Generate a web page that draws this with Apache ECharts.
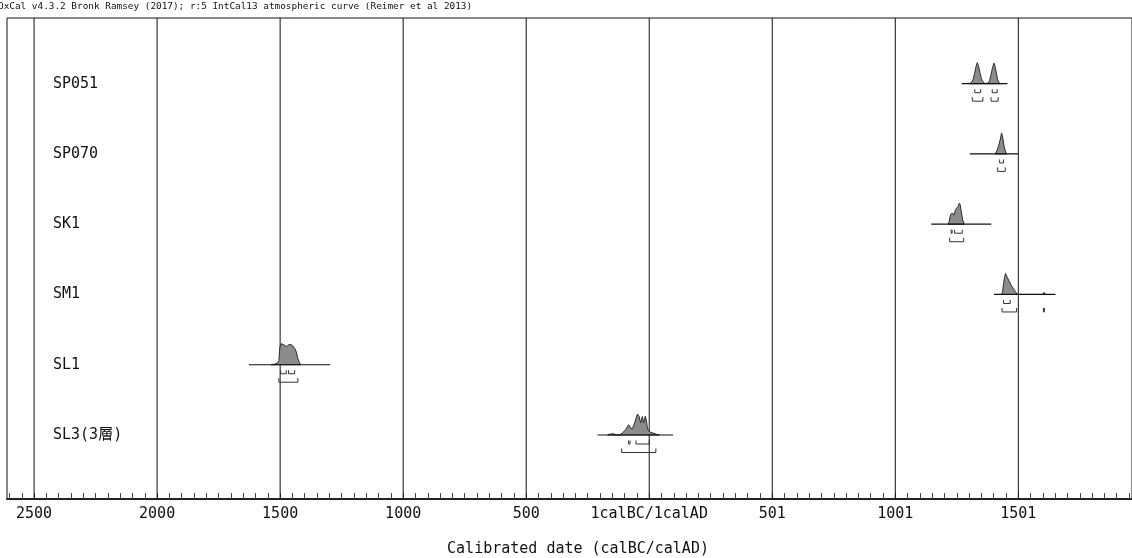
<!DOCTYPE html>
<html><head><meta charset="utf-8">
<script src="https://cdn.jsdelivr.net/npm/echarts@6/dist/echarts.min.js"></script>
<style>html,body{margin:0;padding:0;background:#fff}#c{width:1132px;height:558px}</style>
</head><body><div id="c"></div>
<script>
// ---- data (x values: calendar axis, negative = BC, 0 = 1calBC/1calAD boundary, AD year = x+1)
const names = ['SP051', 'SP070', 'SK1', 'SM1', 'SL1', 'SL3(3層)'];
const rowValues = [6, 5, 4, 3, 2, 1];
const baselineRanges = [[1270, 1456], [1303, 1500], [1146, 1390], [1401, 1651], [-1627, -1296], [-210, 97]];

const distSP051 = [[1301,0],[1309,0.05],[1316,0.19],[1322,0.48],[1328,0.81],[1333,1],[1338,0.86],[1344,0.52],[1350,0.24],[1356,0.1],[1364,0.01],[1376,0.02],[1383,0.14],[1389,0.43],[1395,0.76],[1401,0.98],[1406,0.81],[1411,0.48],[1416,0.19],[1421,0.05],[1429,0]];
const distSP070 = [[1405,0],[1413,0.14],[1421,0.43],[1427,0.71],[1432,1],[1437,0.76],[1441,0.43],[1447,0.14],[1452,0]];
const distSK1 = [[1215,0],[1219,0.13],[1223,0.37],[1227,0.49],[1233,0.52],[1238,0.43],[1244,0.65],[1249,0.76],[1255,0.84],[1260,1],[1264,0.92],[1268,0.6],[1274,0.2],[1280,0]];
const distSM1 = [[1432,0],[1436,0.13],[1440,0.52],[1444,0.81],[1448,1],[1454,0.84],[1462,0.65],[1471,0.44],[1482,0.24],[1491,0.08],[1499,0],[1600,0],[1605,0.1],[1611,0]];
const distSL1 = [[-1536,0],[-1523,0.03],[-1512,0.06],[-1505,0.2],[-1501,0.84],[-1495,1],[-1489,0.97],[-1481,0.92],[-1473,0.86],[-1465,0.96],[-1456,0.96],[-1448,0.89],[-1440,0.76],[-1434,0.6],[-1429,0.33],[-1422,0.11],[-1416,0]];
const distSL3 = [[-169,0],[-156,0.05],[-142,0.05],[-133,0],[-119,0.01],[-108,0.11],[-95,0.26],[-84,0.49],[-74,0.31],[-68,0.31],[-61,0.51],[-54,0.77],[-48,1],[-41,0.88],[-35,0.57],[-28,0.88],[-23,0.57],[-16,0.89],[-12,0.72],[-8,0.38],[-3,0.2],[7,0.12],[16,0.09],[30,0.03],[41,0]];
const dists = [distSP051, distSP070, distSK1, distSM1, distSL1, distSL3];

// 68.2% and 95.4% ranges
const ranges68 = [[[1323,1347],[1394,1414]], [[1424,1440]], [[1227,1231],[1241,1272]], [[1440,1467]], [[-1498,-1475],[-1466,-1441]], [[-84,-78],[-54,0]]];
const ranges95 = [[[1313,1356],[1389,1418]], [[1416,1447]], [[1221,1278]], [[1434,1493],[1602,1606]], [[-1505,-1428]], [[-112,27]]];

const majorTicks = [-2500, -2000, -1500, -1000, -500, 0, 500, 1000, 1500];
const minorTicks = [];
for (let v = -2600; v <= 1950; v += 50) minorTicks.push(v);

const xMin = -2610, xMax = 1962;
const PEAK = 0.299;

const FONT = '"DejaVu Sans Mono", "Liberation Mono", "Noto Sans CJK JP", monospace';

const chart = echarts.init(document.getElementById('c'), null, {renderer: 'canvas'});

function distRender(idx) {
  return function (params, api) {
    const y0 = rowValues[idx];
    const d = dists[idx];
    const pts = d.map(p => api.coord([p[0], y0 + p[1] * PEAK]));
    const br = baselineRanges[idx];
    const a = api.coord([br[0], y0]), b = api.coord([br[1], y0]);
    return {
      type: 'group',
      children: [
        {type: 'polygon', shape: {points: pts}, style: {fill: '#8c8c8c', stroke: '#2a2a2a', lineWidth: 1}},
        {type: 'line', shape: {x1: a[0], y1: a[1], x2: b[0], y2: b[1]}, style: {stroke: '#111', lineWidth: 1.2}}
      ]
    };
  };
}

function bracketRender(idx) {
  return function (params, api) {
    const y0 = rowValues[idx];
    const kids = [];
    const add = (rs, top, bot) => rs.forEach(r => {
      const p1 = api.coord([r[0], y0 - top]), p2 = api.coord([r[0], y0 - bot]);
      const p3 = api.coord([r[1], y0 - bot]), p4 = api.coord([r[1], y0 - top]);
      kids.push({type: 'polyline', shape: {points: [p1, p2, p3, p4]}, style: {stroke: '#333', lineWidth: 1, fill: null}});
    });
    add(ranges68[idx], 0.078, 0.128);
    add(ranges95[idx], 0.192, 0.249);
    return {type: 'group', children: kids};
  };
}

const series = [];
series.push({
  type: 'custom', name: 'major', silent: true, data: majorTicks.map(v => [v, 0]),
  renderItem: function (params, api) {
    const v = api.value(0);
    const p1 = api.coord([v, 6.935]), p2 = api.coord([v, 0.089]);
    return {type: 'line', shape: {x1: p1[0], y1: p1[1], x2: p2[0], y2: p2[1]}, style: {stroke: '#111', lineWidth: 1}};
  }
});
names.forEach((n, i) => {
  series.push({type: 'custom', name: n, silent: true, data: [[baselineRanges[i][0], rowValues[i]]], renderItem: distRender(i)});
  series.push({type: 'custom', name: n + '_r', silent: true, data: [[baselineRanges[i][0], rowValues[i]]], renderItem: bracketRender(i)});
});

chart.setOption({
  animation: false,
  backgroundColor: '#fff',
  grid: {left: 7, top: 18, right: -1, bottom: 59, show: true, borderColor: '#111', borderWidth: 1, backgroundColor: 'transparent'},
  xAxis: {
    type: 'value', min: xMin, max: xMax,
    axisLine: {show: true, onZero: false, lineStyle: {color: '#222', width: 2}},
    axisTick: {show: true, inside: true, length: 6, customValues: minorTicks, lineStyle: {color: '#444', width: 1}},
    axisLabel: {
      show: true, margin: 8, customValues: majorTicks, fontFamily: FONT, fontSize: 15, color: '#111',
      formatter: v => v < 0 ? String(-v) : (v === 0 ? '1calBC/1calAD' : String(v + 1))
    },
    splitLine: {show: false}
  },
  yAxis: {
    type: 'value', min: 0.089, max: 6.935,
    axisLine: {show: false}, axisTick: {show: false}, splitLine: {show: false},
    axisLabel: {
      show: true, inside: true, margin: 46, align: 'left', customValues: rowValues,
      fontFamily: FONT, fontSize: 15, color: '#111',
      formatter: v => names[rowValues.indexOf(Math.round(v))] || ''
    }
  },
  graphic: [
    {type: 'text', left: -2, top: 2, style: {text: 'OxCal v4.3.2 Bronk Ramsey (2017); r:5 IntCal13 atmospheric curve (Reimer et al 2013)', fontFamily: FONT, fontSize: 9.4, fill: '#111'}},
    {type: 'text', x: 578, y: 549, style: {text: 'Calibrated date (calBC/calAD)', fontFamily: FONT, fontSize: 15, fill: '#111', align: 'center', verticalAlign: 'middle'}}
  ],
  series: series
});
</script></body></html>
